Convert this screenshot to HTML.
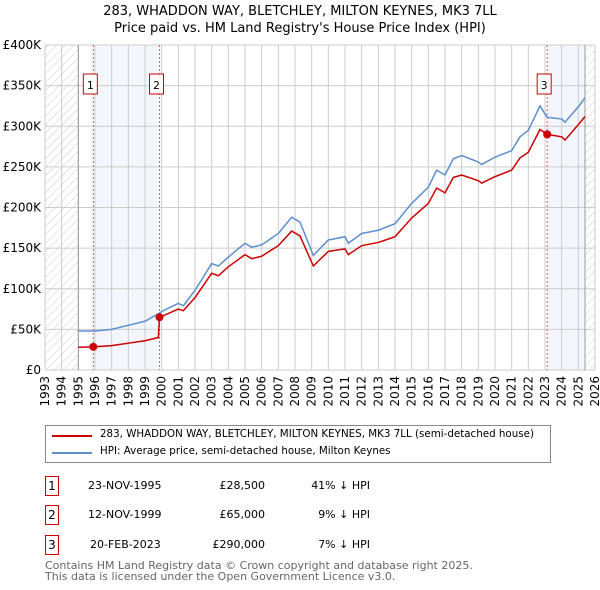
<!DOCTYPE html>
<html><head><meta charset="utf-8"><style>
body{margin:0;background:#fff;font-family:"DejaVu Sans","Liberation Sans",sans-serif;}
#wrap{position:relative;width:600px;height:590px;overflow:hidden}
.t{position:absolute;font-size:12px;color:#000;white-space:nowrap}
.box{position:absolute;border:1.5px solid #c00;width:12px;height:18px;font-size:12px;text-align:center;line-height:18px}
</style></head><body>
<div id="wrap">
<div class="t" style="left:0;width:600px;text-align:center;top:4px;font-size:13px">283, WHADDON WAY, BLETCHLEY, MILTON KEYNES, MK3 7LL</div>
<div class="t" style="left:0;width:600px;text-align:center;top:21px;font-size:13px">Price paid vs. HM Land Registry's House Price Index (HPI)</div>
<svg id="chart" width="600" height="410" style="position:absolute;left:0;top:0" font-family="DejaVu Sans, Liberation Sans, sans-serif">
<defs><pattern id="hatch" width="6" height="6" patternUnits="userSpaceOnUse" patternTransform="rotate(45)"><line x1="0" y1="0" x2="0" y2="6" stroke="#ccc" stroke-width="1"/></pattern></defs>
</svg>
<div style="position:absolute;left:45px;top:425px;width:504px;height:36px;border:1px solid #888"></div>
<div style="position:absolute;left:52px;top:435px;width:40px;height:2px;background:#c00"></div>
<div class="t" style="left:100px;top:428px;font-size:10.3px">283, WHADDON WAY, BLETCHLEY, MILTON KEYNES, MK3 7LL (semi-detached house)</div>
<div style="position:absolute;left:52px;top:452px;width:40px;height:2px;background:#5b8fd0"></div>
<div class="t" style="left:100px;top:445px;font-size:10.3px">HPI: Average price, semi-detached house, Milton Keynes</div>
<div class="box" style="left:45px;top:476px">1</div>
<div class="t" style="left:88px;top:479px;font-size:11px">23-NOV-1995</div>
<div class="t" style="left:200px;width:65px;text-align:right;top:479px;font-size:11px">£28,500</div>
<div class="t" style="left:300px;width:70px;text-align:right;top:479px;font-size:11px">41% ↓ HPI</div>
<div class="box" style="left:45px;top:505px">2</div>
<div class="t" style="left:88px;top:508px;font-size:11px">12-NOV-1999</div>
<div class="t" style="left:200px;width:65px;text-align:right;top:508px;font-size:11px">£65,000</div>
<div class="t" style="left:300px;width:70px;text-align:right;top:508px;font-size:11px">9% ↓ HPI</div>
<div class="box" style="left:45px;top:535px">3</div>
<div class="t" style="left:90px;top:538px;font-size:11px">20-FEB-2023</div>
<div class="t" style="left:200px;width:65px;text-align:right;top:538px;font-size:11px">£290,000</div>
<div class="t" style="left:300px;width:70px;text-align:right;top:538px;font-size:11px">7% ↓ HPI</div>
<div class="t" style="left:45px;top:560px;font-size:11px;color:#666;line-height:11px">Contains HM Land Registry data © Crown copyright and database right 2025.<br>This data is licensed under the Open Government Licence v3.0.</div>
</div>
<script>
const yearTicks=[1993,1994,1995,1996,1997,1998,1999,2000,2001,2002,2003,2004,2005,2006,2007,2008,2009,2010,2011,2012,2013,2014,2015,2016,2017,2018,2019,2020,2021,2022,2023,2024,2025,2026];
const valueTicks=[0,50000,100000,150000,200000,250000,300000,350000,400000];
const valueTickLabels=["£0","£50K","£100K","£150K","£200K","£250K","£300K","£350K","£400K"];
const hpiDates=[1995,1996,1997,1998,1999,1999.87,2000,2001,2001.3,2002,2003,2003.4,2004,2005,2005.4,2006,2007,2007.8,2008.3,2009.1,2010,2011,2011.2,2012,2013,2014,2015,2016,2016.5,2017,2017.5,2018,2019,2019.2,2020,2021,2021.5,2022,2022.7,2023.13,2024,2024.2,2025,2025.4];
const hpiValues=[48000,48000,50000,55000,60000,70000,72000,82000,79000,98000,131000,128000,139000,156000,151000,154000,168000,188000,182000,141000,160000,164000,156000,168000,172000,180000,205000,225000,246000,240000,260000,264000,256000,253000,262000,270000,287000,295000,325000,311000,309000,305000,324000,335000];
const priceDates=[1995,1995.9,1997,1998,1999,1999.8,1999.87,2000,2001,2001.3,2002,2003,2003.4,2004,2005,2005.4,2006,2007,2007.8,2008.3,2009.1,2010,2011,2011.2,2012,2013,2014,2015,2016,2016.5,2017,2017.5,2018,2019,2019.2,2020,2021,2021.5,2022,2022.7,2023.13,2024,2024.2,2025,2025.4];
const priceValues=[28000,28500,30000,33000,36000,40000,65000,66000,75000,73000,89000,119000,116000,127000,142000,137000,140000,153000,171000,165000,128000,146000,149000,142000,153000,157000,164000,187000,205000,224000,218000,237000,240000,233000,230000,238000,246000,261000,268000,296000,290000,287000,283000,302000,312000];
const saleDates=[1995.9,1999.87,2023.13];
const saleValues=[28500,65000,290000];
const saleLabels=["1","2","3"];
const X0=45,X1=595,Y0=370,Y1=45;
const sx=d=>X0+(d-1993)/(2026-1993)*(X1-X0);
const sy=v=>Y0-v/400000*(Y0-Y1);
const svg=document.getElementById('chart');const NS='http://www.w3.org/2000/svg';
function mk(t,a,p){const e=document.createElementNS(NS,t);for(const k in a)e.setAttribute(k,a[k]);(p||svg).appendChild(e);return e;}
let e;
e=mk('rect',{x:X0,y:Y1,width:sx(1995)-X0,height:Y0-Y1,fill:'url(#hatch)'});


e=mk('rect',{x:sx(2025.4),y:Y1,width:X1-sx(2025.4),height:Y0-Y1,fill:'url(#hatch)'});


e=mk('rect',{x:sx(saleDates[0]),y:Y1,width:sx(saleDates[1])-sx(saleDates[0]),height:Y0-Y1,fill:'#eef3fc',opacity:0.7});


e=mk('rect',{x:sx(saleDates[2]),y:Y1,width:sx(2025.4)-sx(saleDates[2]),height:Y0-Y1,fill:'#eef3fc',opacity:0.7});


yearTicks.forEach(y=>{
 e=mk('line',{x1:sx(y),x2:sx(y),y1:Y1,y2:Y0,stroke:'#ccc','stroke-width':1});
 
 
 e=mk('text',{x:0,y:0,'font-size':12,'text-anchor':'end',transform:`translate(${sx(y)+4},${Y0+6}) rotate(-90)`});
 e.textContent=y;
 
 
});
valueTicks.forEach((v,i)=>{
 e=mk('line',{x1:X0,x2:X1,y1:sy(v),y2:sy(v),stroke:'#ccc','stroke-width':1});
 
 
 e=mk('text',{x:X0-4,y:sy(v)+4,'font-size':12,'text-anchor':'end'});
 e.textContent=valueTickLabels[i];
 
 
});
[1995,2025.4].forEach(d=>{e=mk('line',{x1:sx(d),x2:sx(d),y1:Y1,y2:Y0,stroke:'#999','stroke-width':1});
 
 });
saleDates.forEach((d,i)=>{
 e=mk('line',{x1:sx(d),x2:sx(d),y1:Y1,y2:Y0,stroke:'#e55','stroke-width':1,'stroke-dasharray':'2,2'});
 
 
});
e=mk('polyline',{points:hpiDates.map((d,i)=>sx(d)+','+sy(hpiValues[i])).join(' '),fill:'none',stroke:'#5b8fd0','stroke-width':1.5});


e=mk('polyline',{points:priceDates.map((d,i)=>sx(d)+','+sy(priceValues[i])).join(' '),fill:'none',stroke:'#c00','stroke-width':1.5});


saleDates.forEach((d,i)=>{
 e=mk('circle',{cx:sx(d),cy:sy(saleValues[i]),r:4,fill:'#c00'});
 
 
 e=mk('rect',{x:sx(d)-10,y:74,width:14,height:20,fill:'#fff',stroke:'#c00','stroke-width':1});
 
 
 e=mk('text',{x:sx(d)-3,y:89,'font-size':11,'text-anchor':'middle'});
 e.textContent=saleLabels[i];
 
 
});
</script>
</body></html>
